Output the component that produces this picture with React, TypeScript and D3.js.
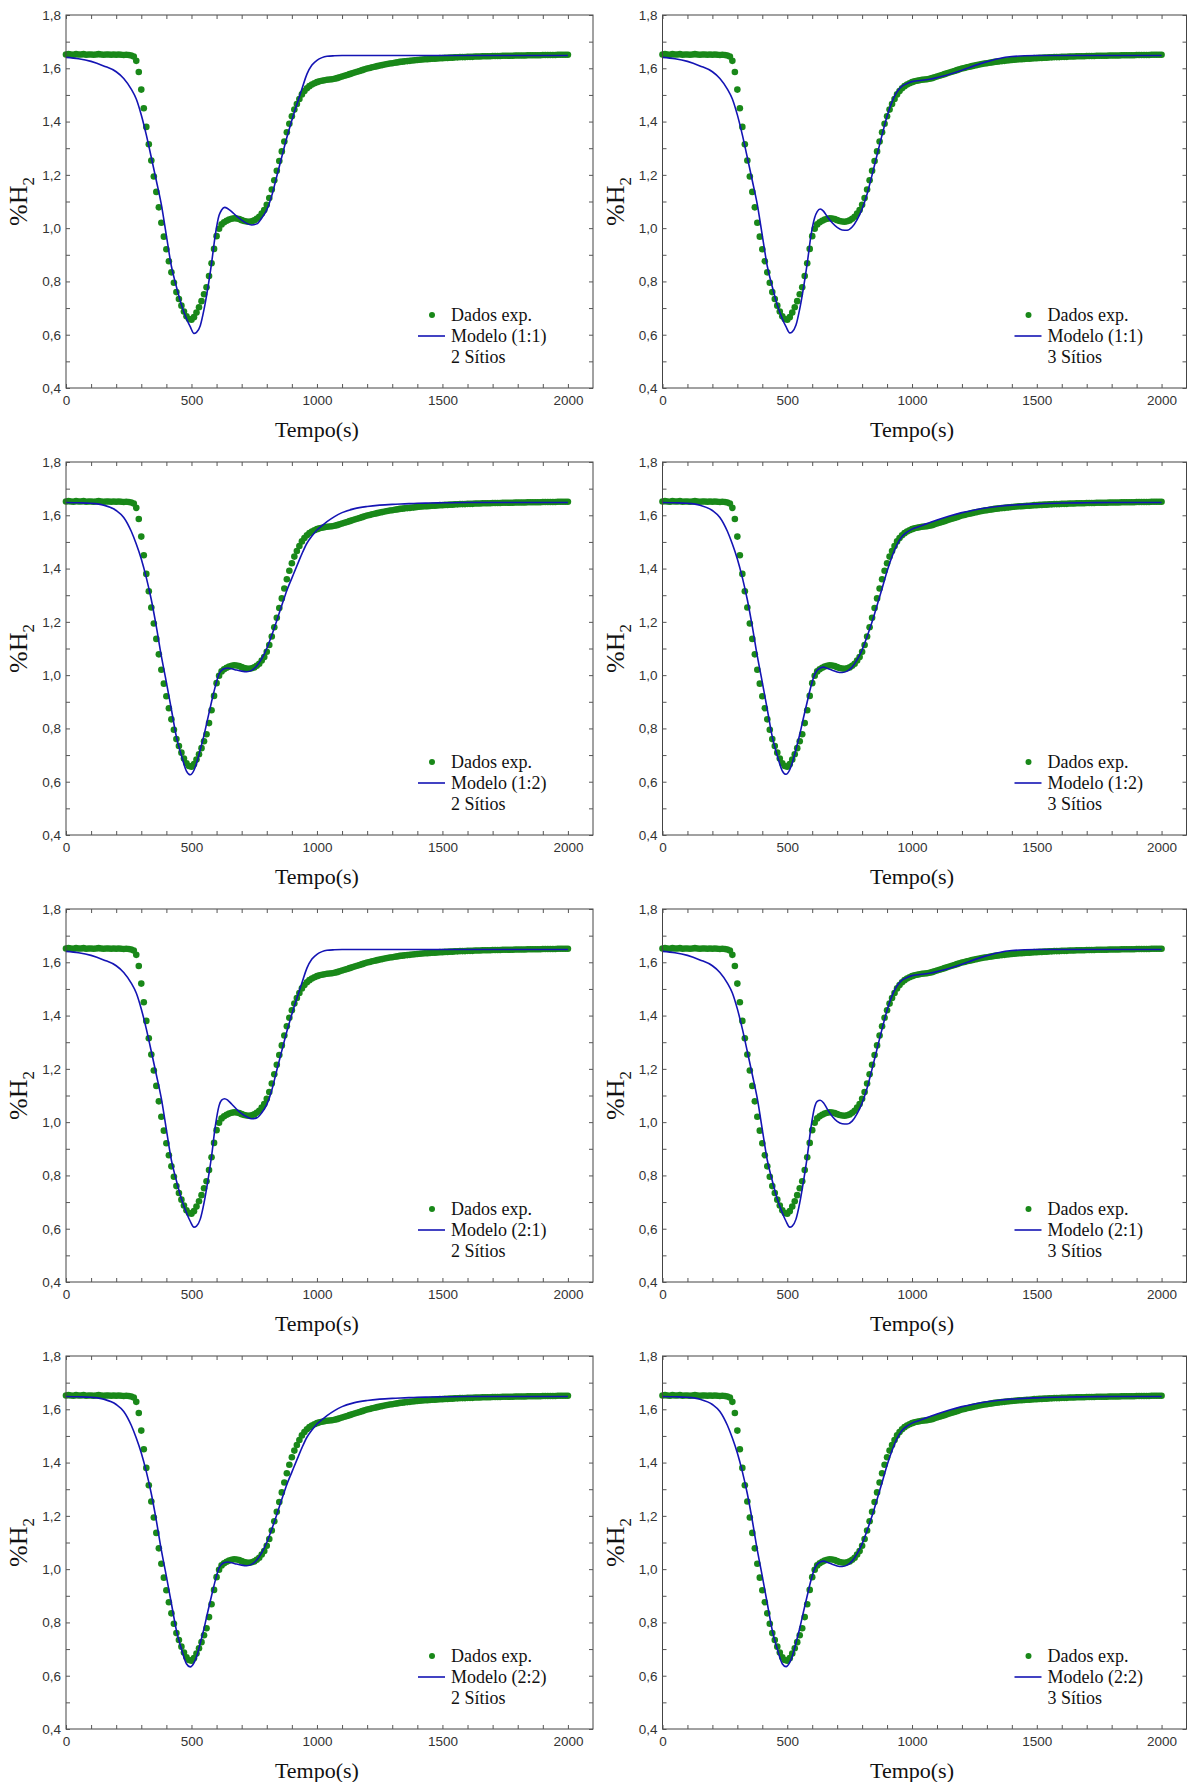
import React, { useEffect, useRef } from 'react'
import {
  axisBottom,
  axisLeft,
  axisRight,
  axisTop,
  curveMonotoneX,
  line,
  range,
  scaleLinear,
  select
} from 'd3'

const expTime = [
  0, 10, 20, 30, 40, 50, 60, 70, 80, 90,
  100, 110, 120, 130, 140, 150, 160, 170, 180, 190,
  200, 210, 220, 230, 240, 250, 260, 270, 280, 290,
  300, 310, 320, 330, 340, 350, 360, 370, 380, 390,
  400, 410, 420, 430, 440, 450, 460, 470, 480, 490,
  500, 510, 520, 530, 540, 550, 560, 570, 580, 590,
  600, 610, 620, 630, 640, 650, 660, 670, 680, 690,
  700, 710, 720, 730, 740, 750, 760, 770, 780, 790,
  800, 810, 820, 830, 840, 850, 860, 870, 880, 890,
  900, 910, 920, 930, 940, 950, 960, 970, 980, 990,
  1000, 1010, 1020, 1030, 1040, 1050, 1060, 1070, 1080, 1090,
  1100, 1110, 1120, 1130, 1140, 1150, 1160, 1170, 1180, 1190,
  1200, 1210, 1220, 1230, 1240, 1250, 1260, 1270, 1280, 1290,
  1300, 1310, 1320, 1330, 1340, 1350, 1360, 1370, 1380, 1390,
  1400, 1410, 1420, 1430, 1440, 1450, 1460, 1470, 1480, 1490,
  1500, 1510, 1520, 1530, 1540, 1550, 1560, 1570, 1580, 1590,
  1600, 1610, 1620, 1630, 1640, 1650, 1660, 1670, 1680, 1690,
  1700, 1710, 1720, 1730, 1740, 1750, 1760, 1770, 1780, 1790,
  1800, 1810, 1820, 1830, 1840, 1850, 1860, 1870, 1880, 1890,
  1900, 1910, 1920, 1930, 1940, 1950, 1960, 1970, 1980, 1990,
  2000
]
const expH2 = [
  1.652, 1.653, 1.652, 1.651, 1.653, 1.652, 1.652, 1.653, 1.651, 1.652,
  1.652, 1.651, 1.652, 1.653, 1.652, 1.651, 1.652, 1.652, 1.651, 1.652,
  1.651, 1.652, 1.651, 1.650, 1.651, 1.650, 1.648, 1.644, 1.628, 1.586,
  1.520, 1.450, 1.380, 1.315, 1.254, 1.194, 1.136, 1.078, 1.020, 0.968,
  0.921, 0.876, 0.834, 0.795, 0.760, 0.734, 0.709, 0.687, 0.669, 0.659,
  0.656, 0.666, 0.683, 0.703, 0.726, 0.752, 0.778, 0.820, 0.868, 0.922,
  0.970, 0.998, 1.014, 1.022, 1.028, 1.032, 1.035, 1.037, 1.036, 1.034,
  1.030, 1.027, 1.025, 1.024, 1.026, 1.029, 1.035, 1.043, 1.055, 1.068,
  1.088, 1.113, 1.145, 1.180, 1.215, 1.252, 1.288, 1.325, 1.360, 1.392,
  1.420, 1.445, 1.466, 1.485, 1.502, 1.515, 1.525, 1.533, 1.539, 1.544,
  1.548, 1.551, 1.553, 1.555, 1.557, 1.558, 1.559, 1.561, 1.563, 1.566,
  1.569, 1.572, 1.575, 1.578, 1.581, 1.584, 1.587, 1.590, 1.593, 1.596,
  1.599, 1.601, 1.604, 1.606, 1.608, 1.610, 1.612, 1.614, 1.616, 1.618,
  1.619, 1.621, 1.622, 1.624, 1.625, 1.626, 1.627, 1.628, 1.629, 1.630,
  1.631, 1.632, 1.633, 1.634, 1.634, 1.635, 1.636, 1.636, 1.637, 1.638,
  1.638, 1.639, 1.639, 1.640, 1.640, 1.641, 1.641, 1.642, 1.642, 1.642,
  1.643, 1.643, 1.643, 1.644, 1.644, 1.644, 1.645, 1.645, 1.645, 1.645,
  1.646, 1.646, 1.646, 1.646, 1.647, 1.647, 1.647, 1.647, 1.647, 1.648,
  1.648, 1.648, 1.648, 1.648, 1.649, 1.649, 1.649, 1.649, 1.649, 1.649,
  1.650, 1.650, 1.650, 1.650, 1.650, 1.650, 1.651, 1.651, 1.651, 1.651,
  1.651
]

// model curves, sampled on a common time grid
const modelTime = [
  0, 50, 100, 150, 200, 230, 260, 280,
  300, 320, 340, 360, 380, 400, 420, 440,
  460, 480, 495, 510, 520, 535, 550, 565,
  580, 595, 610, 620, 632, 645, 660, 680,
  700, 720, 740, 760, 780, 800, 820, 840,
  860, 880, 900, 920, 940, 960, 980, 1000,
  1020, 1040, 1070, 1100, 1150, 1200, 1250, 1300,
  1350, 1400, 1450, 1500, 1600, 1700, 1800, 2000
]
const model11two = [
  1.641, 1.636, 1.626, 1.609, 1.587, 1.562, 1.522, 1.485,
  1.425, 1.350, 1.265, 1.178, 1.088, 0.972, 0.857, 0.780,
  0.712, 0.660, 0.630, 0.605, 0.609, 0.634, 0.695, 0.774,
  0.868, 0.975, 1.048, 1.068, 1.078, 1.073, 1.062, 1.045,
  1.030, 1.018, 1.012, 1.016, 1.038, 1.068, 1.122, 1.195,
  1.268, 1.340, 1.405, 1.465, 1.522, 1.578, 1.612, 1.630,
  1.640, 1.645, 1.647, 1.648, 1.648, 1.648, 1.648, 1.648,
  1.648, 1.648, 1.648, 1.648, 1.648, 1.648, 1.648, 1.648
]
const model11three = [
  1.641, 1.636, 1.626, 1.609, 1.587, 1.562, 1.522, 1.485,
  1.425, 1.350, 1.265, 1.178, 1.088, 0.972, 0.857, 0.780,
  0.712, 0.660, 0.630, 0.607, 0.611, 0.636, 0.697, 0.776,
  0.868, 0.972, 1.040, 1.062, 1.072, 1.064, 1.044, 1.020,
  1.003, 0.993, 0.992, 1.004, 1.032, 1.072, 1.128, 1.200,
  1.275, 1.350, 1.420, 1.475, 1.512, 1.533, 1.543, 1.550,
  1.553, 1.555, 1.559, 1.565, 1.578, 1.593, 1.610, 1.625,
  1.637, 1.644, 1.647, 1.648, 1.648, 1.648, 1.648, 1.648
]
const model12two = [
  1.648, 1.647, 1.645, 1.638, 1.618, 1.592, 1.540, 1.492,
  1.436, 1.366, 1.283, 1.182, 1.071, 0.973, 0.871, 0.768,
  0.698, 0.640, 0.626, 0.643, 0.668, 0.720, 0.775, 0.838,
  0.900, 0.958, 1.005, 1.018, 1.025, 1.027, 1.024, 1.019,
  1.015, 1.013, 1.018, 1.034, 1.062, 1.100, 1.150, 1.205,
  1.262, 1.318, 1.364, 1.410, 1.455, 1.495, 1.522, 1.545,
  1.561, 1.576, 1.595, 1.610, 1.625, 1.633, 1.638, 1.641,
  1.643, 1.645, 1.646, 1.647, 1.648, 1.648, 1.648, 1.648
]
const model12three = [
  1.648, 1.647, 1.645, 1.638, 1.618, 1.592, 1.540, 1.492,
  1.436, 1.366, 1.283, 1.182, 1.071, 0.973, 0.871, 0.768,
  0.698, 0.641, 0.628, 0.645, 0.670, 0.722, 0.777, 0.840,
  0.900, 0.958, 1.003, 1.018, 1.027, 1.030, 1.026, 1.018,
  1.012, 1.010, 1.015, 1.030, 1.058, 1.095, 1.145, 1.200,
  1.262, 1.325, 1.390, 1.445, 1.490, 1.520, 1.537, 1.548,
  1.555, 1.562, 1.572, 1.582, 1.597, 1.610, 1.620, 1.628,
  1.634, 1.638, 1.641, 1.643, 1.646, 1.647, 1.648, 1.648
]
const model21two = [
  1.641, 1.636, 1.626, 1.609, 1.587, 1.562, 1.522, 1.485,
  1.425, 1.350, 1.265, 1.178, 1.088, 0.972, 0.857, 0.780,
  0.712, 0.660, 0.628, 0.606, 0.610, 0.636, 0.697, 0.778,
  0.872, 0.985, 1.062, 1.083, 1.088, 1.082, 1.068, 1.048,
  1.032, 1.020, 1.013, 1.016, 1.035, 1.066, 1.120, 1.195,
  1.268, 1.340, 1.405, 1.465, 1.522, 1.578, 1.612, 1.630,
  1.640, 1.645, 1.647, 1.648, 1.648, 1.648, 1.648, 1.648,
  1.648, 1.648, 1.648, 1.648, 1.648, 1.648, 1.648, 1.648
]
const model21three = [
  1.641, 1.636, 1.626, 1.609, 1.587, 1.562, 1.522, 1.485,
  1.425, 1.350, 1.265, 1.178, 1.088, 0.972, 0.857, 0.780,
  0.712, 0.660, 0.628, 0.606, 0.610, 0.636, 0.697, 0.778,
  0.870, 0.980, 1.058, 1.078, 1.082, 1.073, 1.050, 1.022,
  1.003, 0.994, 0.993, 1.004, 1.032, 1.072, 1.128, 1.200,
  1.275, 1.350, 1.420, 1.475, 1.512, 1.533, 1.543, 1.550,
  1.553, 1.555, 1.559, 1.565, 1.578, 1.593, 1.610, 1.625,
  1.637, 1.644, 1.647, 1.648, 1.648, 1.648, 1.648, 1.648
]
const model22two = [
  1.648, 1.647, 1.645, 1.638, 1.618, 1.592, 1.540, 1.492,
  1.436, 1.366, 1.283, 1.182, 1.071, 0.973, 0.871, 0.770,
  0.700, 0.645, 0.633, 0.648, 0.670, 0.722, 0.777, 0.840,
  0.900, 0.958, 1.005, 1.018, 1.025, 1.027, 1.024, 1.019,
  1.015, 1.013, 1.018, 1.034, 1.062, 1.100, 1.150, 1.205,
  1.262, 1.318, 1.364, 1.410, 1.455, 1.495, 1.522, 1.545,
  1.561, 1.576, 1.595, 1.610, 1.625, 1.633, 1.638, 1.641,
  1.643, 1.645, 1.646, 1.647, 1.648, 1.648, 1.648, 1.648
]
const model22three = [
  1.648, 1.647, 1.645, 1.638, 1.618, 1.592, 1.540, 1.492,
  1.436, 1.366, 1.283, 1.182, 1.071, 0.973, 0.871, 0.770,
  0.700, 0.645, 0.634, 0.650, 0.672, 0.724, 0.778, 0.840,
  0.900, 0.958, 1.003, 1.018, 1.027, 1.030, 1.026, 1.018,
  1.012, 1.010, 1.015, 1.030, 1.058, 1.095, 1.145, 1.200,
  1.262, 1.325, 1.390, 1.445, 1.490, 1.520, 1.537, 1.548,
  1.555, 1.562, 1.572, 1.582, 1.597, 1.610, 1.620, 1.628,
  1.634, 1.638, 1.641, 1.643, 1.646, 1.647, 1.648, 1.648
]

const ratioLabels = ['(1:1)', '(1:2)', '(2:1)', '(2:2)']
const sitesLabels = ['2 Sítios', '3 Sítios']
const models = [
  [model11two, model11three],
  [model12two, model12three],
  [model21two, model21three],
  [model22two, model22three]
]
const xTickLabels = [0, 500, 1000, 1500, 2000]
const yTickLabels = [0.4, 0.6, 0.8, 1.0, 1.2, 1.4, 1.6, 1.8]

const GREEN = '#198819'
const BLUE = '#1414b4'
const SERIF = '"Liberation Serif", "Times New Roman", serif'
const SANS = '"Liberation Sans", Arial, sans-serif'

const X_MINOR = range(0, 2100, 100)
const Y_MINOR = range(4, 19).map(k => k / 10)

const styleAxis = (g) => {
  g.select('.domain').remove()
  g.selectAll('.tick line').attr('stroke', '#555')
  g.selectAll('.tick text')
    .attr('fill', '#333')
    .attr('font-family', SANS)
    .attr('font-size', 13.5)
}

const AxisBottom = ({ scale, transform }) => {
  const ref = useRef(null)
  useEffect(() => {
    if (ref.current) {
      const g = select(ref.current)
      g.call(
        axisBottom(scale)
          .tickValues(X_MINOR)
          .tickSizeInner(-4)
          .tickSizeOuter(0)
          .tickPadding(7)
          .tickFormat(t => (xTickLabels.includes(t) ? String(t) : ''))
      )
      styleAxis(g)
    }
  }, [scale])
  return <g ref={ref} transform={transform} />
}

const AxisTop = ({ scale }) => {
  const ref = useRef(null)
  useEffect(() => {
    if (ref.current) {
      const g = select(ref.current)
      g.call(axisTop(scale).tickValues(X_MINOR).tickSizeInner(-4).tickSizeOuter(0).tickFormat(() => ''))
      styleAxis(g)
    }
  }, [scale])
  return <g ref={ref} />
}

const AxisLeft = ({ scale }) => {
  const ref = useRef(null)
  useEffect(() => {
    if (ref.current) {
      const g = select(ref.current)
      g.call(
        axisLeft(scale)
          .tickValues(Y_MINOR)
          .tickSizeInner(-4)
          .tickSizeOuter(0)
          .tickPadding(5)
          .tickFormat(v =>
            yTickLabels.some(l => Math.abs(l - v) < 1e-6) ? v.toFixed(1).replace('.', ',') : ''
          )
      )
      styleAxis(g)
    }
  }, [scale])
  return <g ref={ref} />
}

const AxisRight = ({ scale, transform }) => {
  const ref = useRef(null)
  useEffect(() => {
    if (ref.current) {
      const g = select(ref.current)
      g.call(axisRight(scale).tickValues(Y_MINOR).tickSizeInner(-4).tickSizeOuter(0).tickFormat(() => ''))
      styleAxis(g)
    }
  }, [scale])
  return <g ref={ref} transform={transform} />
}

const Panel = ({ left, top, width, height, model, ratio, sites }) => {
  const x = scaleLinear().domain([0, 2100]).range([0, width])
  const y = scaleLinear().domain([0.4, 1.8]).range([height, 0])
  const modelPath = line()
    .x(d => x(d[0]))
    .y(d => y(d[1]))
    .curve(curveMonotoneX)(modelTime.map((t, i) => [t, model[i]]))

  const lx = 366
  const ly = 300
  return (
    <g transform={`translate(${left}, ${top})`}>
      {expTime.map((t, i) => (
        <circle key={`p-${t}`} cx={x(t)} cy={y(expH2[i])} r={3.3} fill={GREEN} />
      ))}
      <path d={modelPath} fill="none" stroke={BLUE} strokeWidth={1.6} />
      <rect width={width} height={height} fill="none" stroke="#444" strokeWidth={1} />
      <AxisBottom scale={x} transform={`translate(0, ${height})`} />
      <AxisTop scale={x} />
      <AxisLeft scale={y} />
      <AxisRight scale={y} transform={`translate(${width}, 0)`} />

      <g fontFamily={SERIF} fontSize={18} fill="#111">
        <circle cx={lx} cy={ly} r={3} fill={GREEN} />
        <line x1={lx - 14} x2={lx + 13} y1={ly + 21} y2={ly + 21} stroke={BLUE} strokeWidth={1.6} />
        <text x={lx + 19} y={ly} dy="0.33em">Dados exp.</text>
        <text x={lx + 19} y={ly + 21} dy="0.33em">{`Modelo ${ratio}`}</text>
        <text x={lx + 19} y={ly + 42} dy="0.33em">{sites}</text>
      </g>

      <text
        x={width * 2000 / 2100 / 2 + x(0)}
        y={height + 49}
        textAnchor="middle"
        fontFamily={SERIF}
        fontSize={22}
        fill="#111"
      >
        Tempo(s)
      </text>
      <text
        transform={`translate(${-39}, ${height / 2}) rotate(-90)`}
        textAnchor="middle"
        fontFamily={SERIF}
        fontSize={26}
        fill="#111"
      >
        %H<tspan fontSize={17} dy={7}>2</tspan>
      </text>
    </g>
  )
}

const colLeft = [66, 662.5]
const colWidth = [527, 524]
const rowTop = [15, 462, 909, 1356]
const plotHeight = 373

export default function App() {
  return (
    <svg
      width={1192}
      height={1782}
      style={{ position: 'absolute', left: 0, top: 0, background: '#fff' }}
    >
      <rect width={1192} height={1782} fill="#fff" />
      {rowTop.map((top, r) =>
        colLeft.map((left, c) => (
          <Panel
            key={`panel-${r}-${c}`}
            left={left}
            top={top}
            width={colWidth[c]}
            height={plotHeight}
            model={models[r][c]}
            ratio={ratioLabels[r]}
            sites={sitesLabels[c]}
          />
        ))
      )}
    </svg>
  )
}
